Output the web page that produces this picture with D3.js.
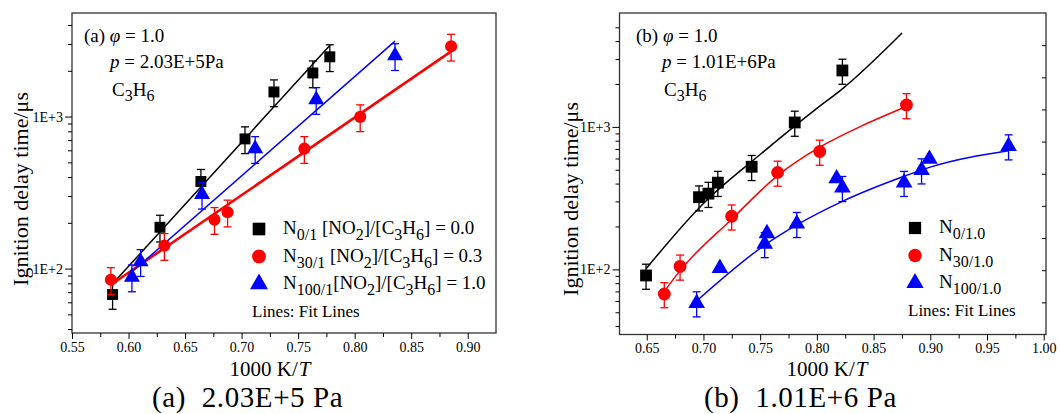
<!DOCTYPE html>
<html>
<head>
<meta charset="utf-8">
<script src="https://cdn.jsdelivr.net/npm/d3@7/dist/d3.min.js"></script>
<style>
  body { margin: 0; background: #fff; }
</style>
</head>
<body>
<svg id="chart" width="1061" height="414" font-family="Liberation Serif"></svg>
<script>
// ---- panel (a) data: 2.03E+5 Pa ----
var aN0x = [0.5859, 0.6278, 0.664, 0.703, 0.7286, 0.763, 0.778];
var aN0y = [67.5, 187, 374, 713, 1452, 1935, 2472];
var aN30x = [0.5844, 0.6317, 0.676, 0.6876, 0.7555, 0.8049, 0.8853];
var aN30y = [84.5, 141.6, 210, 235, 615, 995, 2897];
var aN100x = [0.603, 0.6107, 0.665, 0.712, 0.766, 0.8357];
var aN100y = [88, 111, 308, 615, 1292, 2512];
var aFitN0 = [[0.5859, 79.4], [0.778, 2929]];
var aFitN30 = [[0.5844, 78.2], [0.8853, 2684]];
var aFitN100 = [[0.603, 95], [0.8357, 3133]];

// ---- panel (b) data: 1.01E+6 Pa ----
var bN0x = [0.6494, 0.6961, 0.7044, 0.7127, 0.7425, 0.7805, 0.8225];
var bN0y = [90.6, 321, 340, 406, 525, 1074, 2489];
var bN30x = [0.6655, 0.6794, 0.7249, 0.7654, 0.8025, 0.879];
var bN30y = [67.2, 105, 236, 479, 672, 1426];
var bN100x = [0.694, 0.7145, 0.754, 0.756, 0.7823, 0.8174, 0.8225, 0.8769, 0.8923, 0.8992, 0.969];
var bN100y = [58, 102, 151, 179, 209, 434, 374, 406, 497, 595, 733];
var bN100bar = [true, false, true, false, true, false, true, true, true, false, true];
var bFitN0 = [[0.6494, 101], [0.70, 290], [0.75, 640], [0.80, 1350], [0.8225, 1850], [0.8751, 4560]];
var bFitN30 = [[0.6655, 70], [0.6794, 98], [0.7249, 225], [0.7654, 455], [0.8025, 720], [0.84, 1020], [0.879, 1390]];
var bFitN100 = [[0.694, 60], [0.754, 148], [0.7823, 205], [0.8225, 300], [0.8769, 450], [0.8992, 520], [0.969, 680]];

var errFrac = 0.2;

// ---- axis ticks ----
var xTicksA = [0.55, 0.60, 0.65, 0.70, 0.75, 0.80, 0.85, 0.90];
var xTicksB = [0.65, 0.70, 0.75, 0.80, 0.85, 0.90, 0.95, 1.00];
var yMajor = [100, 1000];
var yMajorLabels = ["1E+2", "1E+3"];
var yMinor = [40, 50, 60, 70, 80, 90, 200, 300, 400, 500, 600, 700, 800, 900, 2000, 3000, 4000, 5000];
var rightTicksB = [1, 2, 3, 4, 5, 6, 7, 8, 9];

var FONT = "Liberation Serif";
var svg = d3.select("#chart");

function drawPanel(p) {
    var g = svg.append("g").attr("font-family", FONT);
    var x = d3.scaleLinear().domain(p.xDomain).range([p.left, p.right]);
    var y = d3.scaleLog().domain(p.yDomain).range([p.bottom, p.top]);

    // frame
    g.append("rect")
        .attr("x", p.left).attr("y", p.top)
        .attr("width", p.right - p.left).attr("height", p.bottom - p.top)
        .attr("fill", "none").attr("stroke", "#333").attr("stroke-width", 1.3);

    // bottom axis
    var minorX = [];
    p.xTicks.forEach(function(t) { minorX.push(t + 0.025); });
    minorX = minorX.filter(function(t) { return t < p.xDomain[1]; });
    var xa = g.append("g").attr("transform", "translate(0," + p.bottom + ")")
        .call(d3.axisBottom(x).tickValues(p.xTicks).tickSize(6).tickPadding(3)
            .tickFormat(d3.format(".2f")));
    xa.attr("font-family", FONT);
    xa.select(".domain").remove();
    xa.selectAll("text").attr("font-size", 14).attr("fill", "#000");
    var xm = g.append("g").attr("transform", "translate(0," + p.bottom + ")")
        .call(d3.axisBottom(x).tickValues(minorX).tickSize(4).tickFormat(""));
    xm.select(".domain").remove();

    // left axis
    var ya = g.append("g").attr("transform", "translate(" + p.left + ",0)")
        .call(d3.axisLeft(y).tickValues(yMajor).tickSize(7).tickPadding(2)
            .tickFormat(function(d, i) { return yMajorLabels[i]; }));
    ya.attr("font-family", FONT);
    ya.select(".domain").remove();
    ya.selectAll("text").attr("font-size", 14).attr("fill", "#000");
    var ymn = yMinor.filter(function(v) { return v > p.yDomain[0] && v < p.yDomain[1] * 0.97; });
    var ym = g.append("g").attr("transform", "translate(" + p.left + ",0)")
        .call(d3.axisLeft(y).tickValues(ymn).tickSize(4).tickFormat(""));
    ym.select(".domain").remove();

    if (p.rightAxis) {
        var yr = d3.scaleLinear().domain([0, 10]).range([p.bottom, p.top]);
        var ra = g.append("g").attr("transform", "translate(" + p.right + ",0)")
            .call(d3.axisLeft(yr).tickValues(rightTicksB).tickSize(4).tickFormat(""));
        ra.select(".domain").remove();
    }

    // axis titles
    g.append("text")
        .attr("transform", "translate(" + p.yTitleX + "," + p.yTitleY + ") rotate(-90)")
        .attr("text-anchor", "middle").attr("font-size", 22)
        .text("Ignition delay time/μs");
    var xt = g.append("text")
        .attr("x", p.xTitleX).attr("y", 375.5)
        .attr("text-anchor", "middle").attr("font-size", 21);
    xt.append("tspan").text("1000 K/");
    xt.append("tspan").attr("font-style", "italic").attr("dx", 1).text("T");

    // caption
    g.append("text")
        .attr("x", p.captionX).attr("y", 407)
        .attr("font-size", 29).attr("letter-spacing", 0.6).attr("xml:space", "preserve")
        .text(p.caption);

    // fit lines
    var clip = "clip" + p.id;
    g.append("clipPath").attr("id", clip).append("rect")
        .attr("x", p.left).attr("y", p.top).attr("width", p.right - p.left).attr("height", p.bottom - p.top);
    var line = d3.line()
        .x(function(d) { return x(d[0]); })
        .y(function(d) { return y(d[1]); })
        .curve(d3.curveMonotoneX);
    p.series.forEach(function(s) {
        g.append("path")
            .datum(s.fit)
            .attr("clip-path", "url(#" + clip + ")")
            .attr("fill", "none")
            .attr("stroke", s.color)
            .attr("stroke-width", s.fitWidth)
            .attr("d", line);
    });

    // error bars + markers
    p.series.forEach(function(s) {
        var pts = s.xs.map(function(v, i) {
            return { x: v, y: s.ys[i], bar: s.bars ? s.bars[i] : true };
        });
        var eb = g.append("g").attr("stroke", s.color).attr("stroke-width", 1.3).attr("fill", "none");
        pts.filter(function(d) { return d.bar; }).forEach(function(d) {
            var hi = y(d.y * (1 + errFrac)), lo = y(d.y * (1 - errFrac)), cx = x(d.x);
            eb.append("line").attr("x1", cx).attr("x2", cx).attr("y1", hi).attr("y2", lo);
            eb.append("line").attr("x1", cx - 4).attr("x2", cx + 4).attr("y1", hi).attr("y2", hi);
            eb.append("line").attr("x1", cx - 4).attr("x2", cx + 4).attr("y1", lo).attr("y2", lo);
        });
        var sym = d3.symbol().type(s.shape).size(s.size);
        g.append("g").selectAll("path").data(pts).join("path")
            .attr("transform", function(d) { return "translate(" + x(d.x) + "," + y(d.y) + ")"; })
            .attr("d", sym)
            .attr("fill", s.color);
    });

    // annotation
    var an = g.append("g").attr("font-size", 19);
    var t1 = an.append("text").attr("x", p.annX).attr("y", p.top + 29);
    t1.append("tspan").text(p.label + " ");
    t1.append("tspan").attr("font-style", "italic").text("φ");
    t1.append("tspan").text(" = 1.0");
    var t2 = an.append("text").attr("x", p.annX + 26).attr("y", p.top + 55);
    t2.append("tspan").attr("font-style", "italic").text("p");
    t2.append("tspan").text(" = " + p.pressure);
    var t3 = an.append("text").attr("x", p.annX + 28).attr("y", p.top + 83);
    t3.append("tspan").text("C");
    t3.append("tspan").attr("dy", 5).attr("font-size", 16).text("3");
    t3.append("tspan").attr("dy", -5).text("H");
    t3.append("tspan").attr("dy", 5).attr("font-size", 16).text("6");

    // legend
    var lg = g.append("g").attr("font-size", 19);
    p.series.forEach(function(s, i) {
        var ly = p.legY + i * 27.5;
        lg.append("path")
            .attr("transform", "translate(" + p.legX + "," + ly + ")")
            .attr("d", d3.symbol().type(s.shape).size(s.legSize)())
            .attr("fill", s.color);
        var t = lg.append("text").attr("x", p.legX + 24).attr("y", ly + 5);
        s.legend.forEach(function(part) {
            var ts = t.append("tspan").text(part[0]);
            if (part[1] === "sub") ts.attr("dy", 6).attr("font-size", 16);
            if (part[1] === "up") ts.attr("dy", -6);
        });
    });
    lg.append("text").attr("x", p.legX - 7).attr("y", p.legY + 88).attr("font-size", 17).text("Lines: Fit Lines");
}

function ratioLegend(n, gap, val) {
    return [["N"], [n, "sub"], [gap + "[NO", "up"], ["2", "sub"], ["]/[C", "up"], ["3", "sub"],
            ["H", "up"], ["6", "sub"], ["] = " + val, "up"]];
}

drawPanel({
    id: "a", label: "(a)", pressure: "2.03E+5Pa", caption: "(a)  2.03E+5 Pa", captionX: 152,
    left: 72, right: 496, top: 13, bottom: 333,
    xDomain: [0.55, 0.925], yDomain: [37.7, 4800], xTicks: xTicksA,
    yTitleX: 28, yTitleY: 189, xTitleX: 270, annX: 84, legX: 259, legY: 229, rightAxis: false,
    series: [
        { xs: aN0x, ys: aN0y, fit: aFitN0, color: "#000000", shape: d3.symbolSquare, size: 120, legSize: 160, fitWidth: 1.5,
          legend: ratioLegend("0/1", " ", "0.0") },
        { xs: aN30x, ys: aN30y, fit: aFitN30, color: "#ff0000", shape: d3.symbolCircle, size: 115, legSize: 150, fitWidth: 2.5,
          legend: ratioLegend("30/1", " ", "0.3") },
        { xs: aN100x, ys: aN100y, fit: aFitN100, color: "#0000ff", shape: d3.symbolTriangle, size: 110, legSize: 140, fitWidth: 1.5,
          legend: ratioLegend("100/1", "", "1.0") }
    ]
});

drawPanel({
    id: "b", label: "(b)", pressure: "1.01E+6Pa", caption: "(b)  1.01E+6 Pa", captionX: 704,
    left: 619.5, right: 1046, top: 13, bottom: 334.5,
    xDomain: [0.626, 1.002], yDomain: [34.9, 6300], xTicks: xTicksB,
    yTitleX: 578, yTitleY: 199, xTitleX: 827, annX: 636, legX: 915, legY: 228, rightAxis: true,
    series: [
        { xs: bN0x, ys: bN0y, fit: bFitN0, color: "#000000", shape: d3.symbolSquare, size: 140, legSize: 150, fitWidth: 1.5,
          legend: [["N"], ["0/1.0", "sub"]] },
        { xs: bN30x, ys: bN30y, fit: bFitN30, color: "#ff0000", shape: d3.symbolCircle, size: 130, legSize: 140, fitWidth: 1.5,
          legend: [["N"], ["30/1.0", "sub"]] },
        { xs: bN100x, ys: bN100y, bars: bN100bar, fit: bFitN100, color: "#0000ff", shape: d3.symbolTriangle, size: 120, legSize: 130, fitWidth: 1.5,
          legend: [["N"], ["100/1.0", "sub"]] }
    ]
});
</script>
</body>
</html>
